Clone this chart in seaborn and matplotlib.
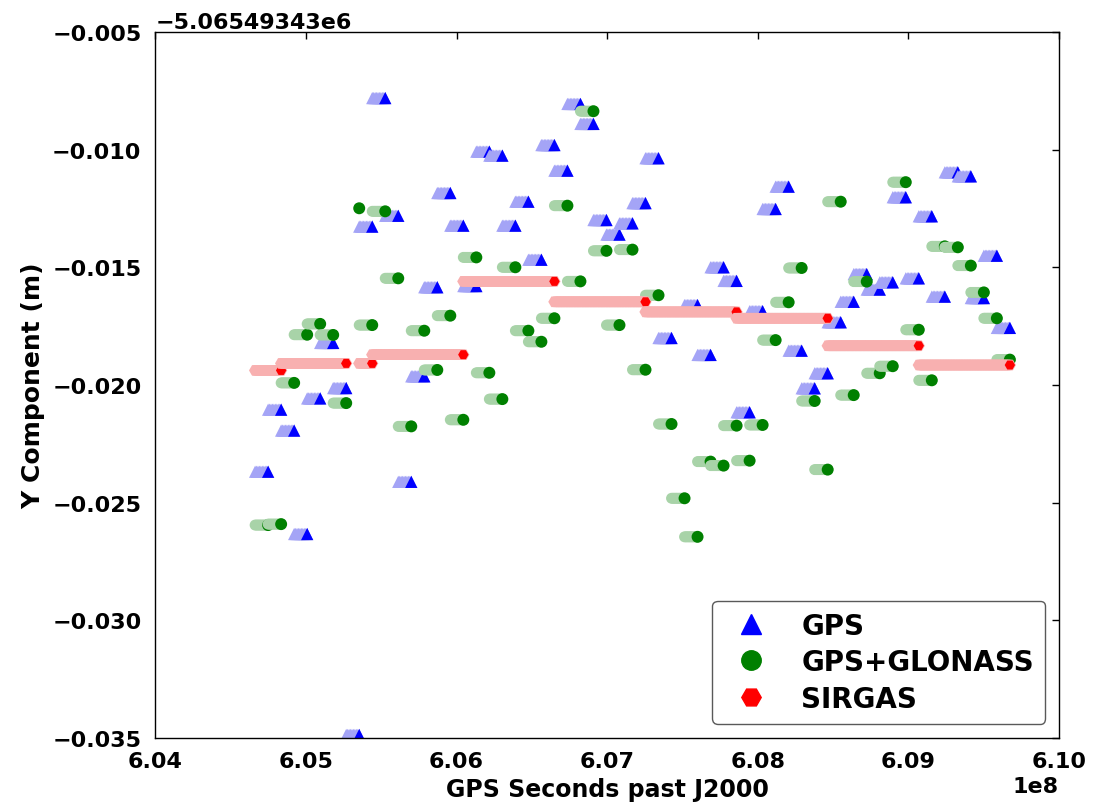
import numpy as np
import pandas as pd
import seaborn as sns
import matplotlib
matplotlib.use('Agg')
import matplotlib.pyplot as plt
from matplotlib.lines import Line2D
from matplotlib.ticker import ScalarFormatter

# GPS seconds past J2000 of the first daily solution, and the Y offset (m)
T0 = 604749000
DAY = 86400
Y_OFFSET = -5065493.43

# Daily GPS-only solutions (day index, Y residual in m)
gps_days = [0, 1, 2, 3, 4, 5, 6, 7, 8, 9, 10, 11, 12, 13, 14, 15, 16, 17,
            18, 19, 20, 21, 22, 23, 24, 25, 26, 27, 28, 29, 30, 31, 33, 34,
            35, 36, 37, 38, 39, 40, 41, 42, 43, 44, 45, 46, 47, 48, 49, 50,
            51, 52, 53, 54, 55, 56, 57]
gps_y = [-0.02369, -0.02105, -0.02194, -0.02634, -0.02057, -0.01821,
         -0.02013, -0.03489, -0.01326, -0.00779, -0.01280, -0.02412,
         -0.01963, -0.01584, -0.01183, -0.01322, -0.01579, -0.01007,
         -0.01024, -0.01322, -0.01220, -0.01467, -0.00979, -0.01088,
         -0.00804, -0.00889, -0.01298, -0.01360, -0.01312, -0.01226,
         -0.01035, -0.01800, -0.01660, -0.01872, -0.01499, -0.01557,
         -0.02116, -0.01686, -0.01251, -0.01156, -0.01854, -0.02014,
         -0.01950, -0.01733, -0.01646, -0.01528, -0.01594, -0.01563,
         -0.01201, -0.01546, -0.01282, -0.01624, -0.01095, -0.01112,
         -0.01630, -0.01450, -0.01757]

# Daily GPS+GLONASS solutions
glo_days = list(range(58))
glo_y = [-0.02596, -0.02592, -0.01991, -0.01786, -0.01740, -0.01787,
         -0.02077, -0.01248, -0.01745, -0.01261, -0.01546, -0.02176,
         -0.01769, -0.01936, -0.01705, -0.02148, -0.01457, -0.01948,
         -0.02060, -0.01499, -0.01769, -0.01816, -0.01716, -0.01237,
         -0.01559, -0.00835, -0.01429, -0.01745, -0.01424, -0.01935,
         -0.01618, -0.02166, -0.02482, -0.02646, -0.02326, -0.02343,
         -0.02173, -0.02322, -0.02170, -0.01809, -0.01648, -0.01502,
         -0.02068, -0.02360, -0.01220, -0.02043, -0.01560, -0.01950,
         -0.01920, -0.01137, -0.01765, -0.01980, -0.01410, -0.01414,
         -0.01492, -0.01606, -0.01716, -0.01892]
glo_no_trail = [7]

# Weekly SIRGAS solutions (start day, end day, Y residual)
sirgas_start = [-1, 1, 7, 8, 15, 22, 29, 36, 43, 50]
sirgas_end = [1, 6, 8, 15, 22, 29, 36, 43, 50, 57]
sirgas_y = [-0.01938, -0.01908, -0.01908, -0.01871, -0.01559, -0.01646,
            -0.01689, -0.01716, -0.01833, -0.01915]

x_ticks = [6.04e8, 6.05e8, 6.06e8, 6.07e8, 6.08e8, 6.09e8, 6.10e8]
y_ticks = [-0.035, -0.030, -0.025, -0.020, -0.015, -0.010, -0.005]


def sweep_frame(starts, ends, values):
    """Each solution as a faded sweep over its span, then the solid mark"""
    rows = []
    for d0, d1, v in zip(starts, ends, values):
        if d1 > d0:
            for d in np.linspace(d0, d1, int((d1 - d0) * 8) + 2):
                rows.append((T0 + d * DAY, Y_OFFSET + v, 'trail'))
        rows.append((T0 + d1 * DAY, Y_OFFSET + v, 'fix'))
    return pd.DataFrame(rows, columns=['t', 'y', 'kind'])


sns.set_style('white')
plt.rcParams['font.family'] = ['DejaVu Sans']
plt.rcParams['font.weight'] = 'bold'
plt.rcParams['axes.labelweight'] = 'bold'
plt.rcParams['axes.edgecolor'] = 'black'
plt.rcParams['axes.linewidth'] = 1.0
for key in ['text.color', 'axes.labelcolor', 'xtick.color', 'ytick.color']:
    plt.rcParams[key] = 'black'

fig = plt.figure(figsize=(10.93, 8.03), dpi=100)
fig.subplots_adjust(left=0.1421, right=0.9689, top=0.9583, bottom=0.0803)
ax = fig.add_subplot(111)

gps = sweep_frame([d - 1 for d in gps_days], gps_days, gps_y)
glo = sweep_frame([d if d in glo_no_trail else d - 1 for d in glo_days],
                  glo_days, glo_y)
sir = sweep_frame(sirgas_start, sirgas_end, sirgas_y)

sns.scatterplot(data=gps, x='t', y='y', hue='kind', size='kind',
                palette={'trail': '#a4a4f6', 'fix': 'blue'},
                sizes={'trail': 78, 'fix': 78},
                marker='^', linewidth=0, legend=False, ax=ax)
sns.scatterplot(data=glo, x='t', y='y', hue='kind', size='kind',
                palette={'trail': '#a8d3a8', 'fix': 'green'},
                sizes={'trail': 62, 'fix': 74},
                marker='o', linewidth=0, legend=False, ax=ax)
sns.scatterplot(data=sir, x='t', y='y', hue='kind', size='kind',
                palette={'trail': '#f8b0b0', 'fix': 'red'},
                sizes={'trail': 78, 'fix': 56},
                marker='H', linewidth=0, legend=False, ax=ax)

ax.set_xlim(x_ticks[0], x_ticks[-1])
ax.set_ylim(Y_OFFSET + y_ticks[0], Y_OFFSET + y_ticks[-1])
ax.set_xticks(x_ticks)
ax.set_yticks([Y_OFFSET + v for v in y_ticks])
ax.xaxis.set_major_formatter(ScalarFormatter(useOffset=False))
ax.yaxis.set_major_formatter(ScalarFormatter(useOffset=Y_OFFSET))
ax.tick_params(direction='in', top=True, right=True, length=5, width=1,
               labelsize=16, pad=10, colors='black')
ax.xaxis.get_offset_text().set_fontsize(16)
ax.yaxis.get_offset_text().set_fontsize(16)

ax.set_xlabel('GPS Seconds past J2000', fontsize=17, labelpad=4)
ax.set_ylabel('Y Component (m)', fontsize=18, labelpad=5)

handles = [
    Line2D([], [], marker='^', color='blue', linestyle='none', markersize=14),
    Line2D([], [], marker='o', color='green', linestyle='none', markersize=14),
    Line2D([], [], marker='H', color='red', linestyle='none', markersize=14),
]
ax.legend(handles, ['GPS', 'GPS+GLONASS', 'SIRGAS'], loc='lower right',
          fontsize=20, labelspacing=0.3, numpoints=1, fancybox=True,
          framealpha=1, edgecolor='0.35')

plt.savefig('out.png', dpi=100)
